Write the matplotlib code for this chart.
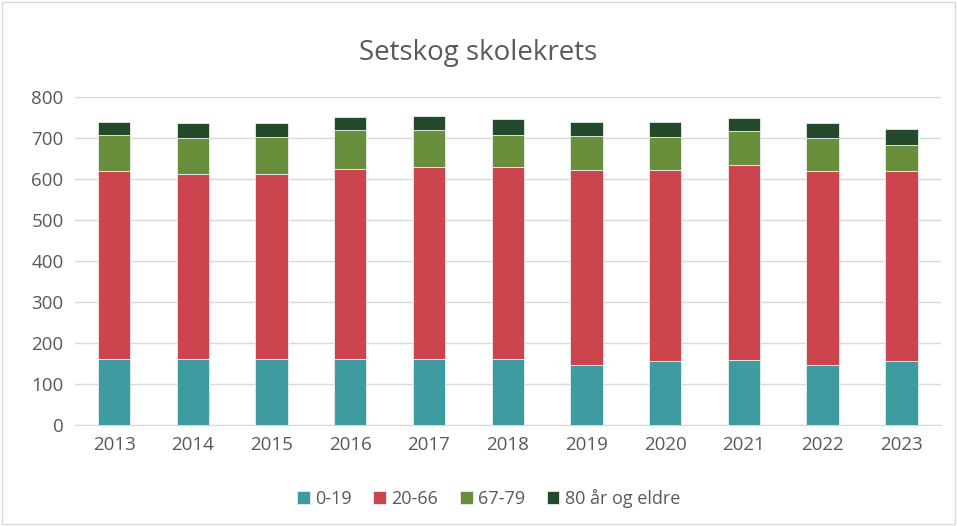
import matplotlib
matplotlib.use('Agg')
import matplotlib.pyplot as plt
import numpy as np

# data
years = ['2013', '2014', '2015', '2016', '2017', '2018', '2019', '2020', '2021', '2022', '2023']
age_0_19 = [160, 160, 162, 162, 160, 162, 147, 155, 158, 147, 155]
age_20_66 = [459, 453, 451, 463, 470, 468, 475, 467, 476, 472, 464]
age_67_79 = [87, 87, 90, 93, 88, 78, 83, 80, 82, 81, 64]
age_80 = [32, 35, 32, 33, 35, 37, 33, 36, 33, 35, 38]

series = [age_0_19, age_20_66, age_67_79, age_80]
labels = ['0-19', '20-66', '67-79', '80 år og eldre']
colors = ['#3E9BA0', '#CB444E', '#6A8F3C', '#234A2A']

plt.rcParams['font.family'] = ['Open Sans', 'DejaVu Sans']
text_col = '#595959'

fig = plt.figure(figsize=(9.57, 5.26), dpi=100)
ax = fig.add_axes([0.078, 0.192, 0.905, 0.624])

x = np.arange(len(years))
bottom = np.zeros(len(years))
for vals, lab, col in zip(series, labels, colors):
    ax.bar(x, vals, width=0.41, bottom=bottom, color=col, label=lab,
           edgecolor='#E8EEEE', linewidth=0.6, zorder=3)
    bottom += np.array(vals)

ax.set_xlim(-0.5, len(years) - 0.5)
ax.set_ylim(0, 800)
ax.set_yticks(range(0, 801, 100))
ax.set_xticks(x)
ax.set_xticklabels(years)
ax.grid(axis='y', color='#D9D9D9', linewidth=1, zorder=0)
for s in ['top', 'right', 'left']:
    ax.spines[s].set_visible(False)
ax.spines['bottom'].set_color('#D9D9D9')
ax.tick_params(axis='both', length=0, labelsize=13.5, colors=text_col, pad=8)

fig.text(0.5, 0.899, 'Setskog skolekrets', ha='center', va='center',
         fontsize=20, color=text_col)

ax.legend(loc='center', bbox_to_anchor=(0.478, -0.223), ncol=4, frameon=False,
          fontsize=13, labelcolor=text_col, handlelength=0.7, handleheight=0.7,
          handletextpad=0.3, columnspacing=1.2)

# chart border
fig.patches.append(plt.Rectangle((0.002, 0.003), 0.996, 0.994, transform=fig.transFigure,
                                 fill=False, edgecolor='#D9D9D9', linewidth=1))

plt.savefig('out.png', dpi=100)
